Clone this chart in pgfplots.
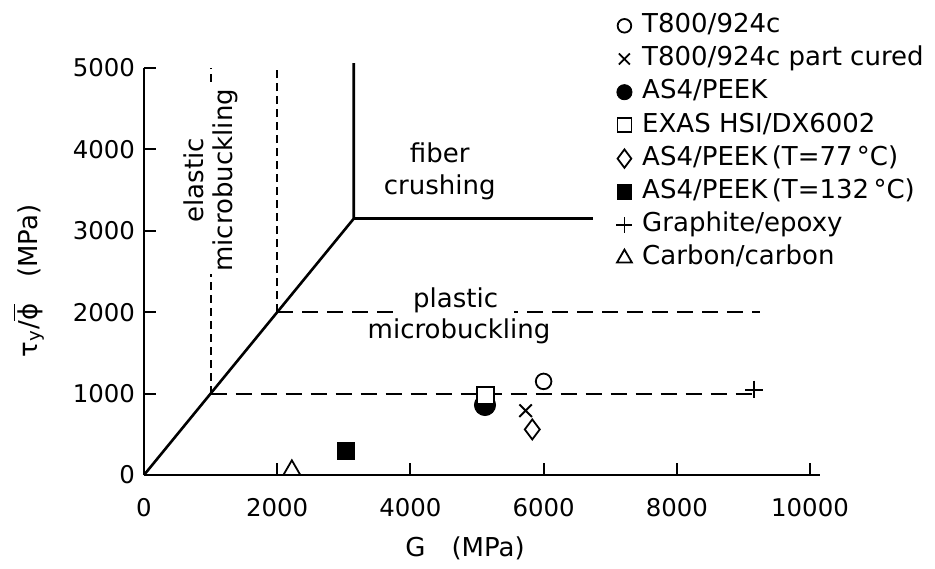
\documentclass[border=0pt]{standalone}
\usepackage{fontspec}
\setmainfont{DejaVu Sans}
\usepackage{pgfplots}
\pgfplotsset{compat=1.18}
\begin{document}
\fontsize{13}{15.5}\selectfont
\begin{tikzpicture}
\begin{axis}[name=ax, scale only axis, width=338pt, height=203.5pt,
 xmin=0, xmax=10150, ymin=0, ymax=5000, clip=false,
 axis lines=left, axis line style={-, line width=1pt},
 xtick={0,2000,4000,6000,8000,10000}, ytick={0,1000,2000,3000,4000,5000},
 tick align=inside, major tick length=6pt, tick style={line width=1pt,black},
 scaled ticks=false,
 /pgf/number format/assume math mode=true,
 /pgf/number format/1000 sep={},
 ticklabel style={font=\fontsize{12.2}{14}\selectfont},
 xticklabel style={yshift=-7pt},
 xlabel={G\quad(MPa)}, xlabel style={at={(axis description cs:0.475,-0.179)}, anchor=center},
 ylabel={τ\textsubscript{y}/$\overline{\hbox{ϕ}}$\quad(MPa)}, ylabel style={at={(axis description cs:-0.17,0.477)}, anchor=center},
 legend image code/.code={\path[draw=none,fill=none] (0cm,0cm) (0.41cm,0cm); \draw[#1] plot coordinates {(0.15cm,0cm)};},
 legend cell align=left,
 legend style={at={(axis description cs:0.6975,1.143)}, anchor=north west, draw=none, fill=none, inner sep=0pt, row sep=1pt,
   nodes={inner sep=1.5pt, text height=9.6pt, text depth=3pt}, font=\fontsize{13}{15}\selectfont},
]
% regime boundaries
\addplot[black, line width=1.3pt, forget plot] coordinates {(0,0)(3150,3150)(3150,5060)};
\addplot[black, line width=1.3pt, forget plot] coordinates {(3150,3150)(6740,3150)};
\addplot[black, line width=0.9pt, dash pattern=on 4pt off 2.5pt, forget plot] coordinates {(1000,1000)(1000,5000)};
\addplot[black, line width=0.9pt, dash pattern=on 4pt off 2.5pt, forget plot] coordinates {(2000,2000)(2000,5000)};
\addplot[black, line width=0.9pt, dash pattern=on 8pt off 4.5pt, forget plot] coordinates {(1000,1000)(9160,1000)};
\addplot[black, line width=0.9pt, dash pattern=on 8pt off 4.5pt, forget plot] coordinates {(2000,2000)(9250,2000)};
% data points
\addplot[black, only marks, mark=o, mark size=3.9pt, line width=0.9pt, forget plot] coordinates {(6000,1150)};
\addplot[black, only marks, mark=x, mark size=4.4pt, line width=1pt, forget plot] coordinates {(5730,790)};
\addplot[black, only marks, mark=*, mark size=5.3pt, forget plot] coordinates {(5120,860)};
\addplot[black, only marks, mark=square*, mark options={fill=white}, mark size=4.2pt, line width=0.9pt, forget plot] coordinates {(5130,980)};
\addplot[black, only marks, mark=diamond, mark size=5pt, line width=0.9pt, forget plot] coordinates {(5830,560)};
\addplot[black, only marks, mark=square*, mark size=4.2pt, forget plot] coordinates {(3030,300)};
\addplot[black, only marks, mark=+, mark size=4.4pt, line width=1pt, forget plot] coordinates {(9160,1050)};
\addplot[black, only marks, mark=triangle, mark size=4.9pt, line width=0.9pt, forget plot] coordinates {(2220,60)};
% legend
\addlegendimage{black, only marks, mark=o, mark size=3.4pt, line width=0.9pt}
\addlegendentry{T800/924c}
\addlegendimage{black, only marks, mark=x, mark size=3.9pt, line width=0.9pt}
\addlegendentry{T800/924c part cured}
\addlegendimage{black, only marks, mark=*, mark size=3.8pt}
\addlegendentry{AS4/PEEK}
\addlegendimage{black, only marks, mark=square, mark size=3.5pt, line width=0.9pt}
\addlegendentry{EXAS HSI/DX6002}
\addlegendimage{black, only marks, mark=diamond, mark size=4.6pt, line width=0.9pt}
\addlegendentry{AS4/PEEK\,(T=77\,°C)}
\addlegendimage{black, only marks, mark=square*, mark size=3.6pt}
\addlegendentry{AS4/PEEK\,(T=132\,°C)}
\addlegendimage{black, only marks, mark=+, mark size=4pt, line width=0.9pt}
\addlegendentry{Graphite/epoxy}
\addlegendimage{black, only marks, mark=triangle, mark size=4.3pt, line width=0.9pt}
\addlegendentry{Carbon/carbon}
% annotations
\node[fill=white, inner sep=1pt, rotate=90, align=center, font=\fontsize{13}{14.5}\selectfont] at (axis cs:1000,3620) {elastic\\microbuckling};
\node[align=center, font=\fontsize{13}{16}\selectfont] at (axis cs:4440,3730) {fiber\\crushing};
\node[fill=white, inner xsep=8pt, inner ysep=1pt] at (axis cs:4680,2140) {plastic};
\node at (axis cs:4730,1770) {microbuckling};
\end{axis}
\pgfresetboundingbox
\path ([xshift=-72pt,yshift=-46.5pt]ax.south west) rectangle ([xshift=395.5pt,yshift=237.5pt]ax.south west);
\end{tikzpicture}
\end{document}
